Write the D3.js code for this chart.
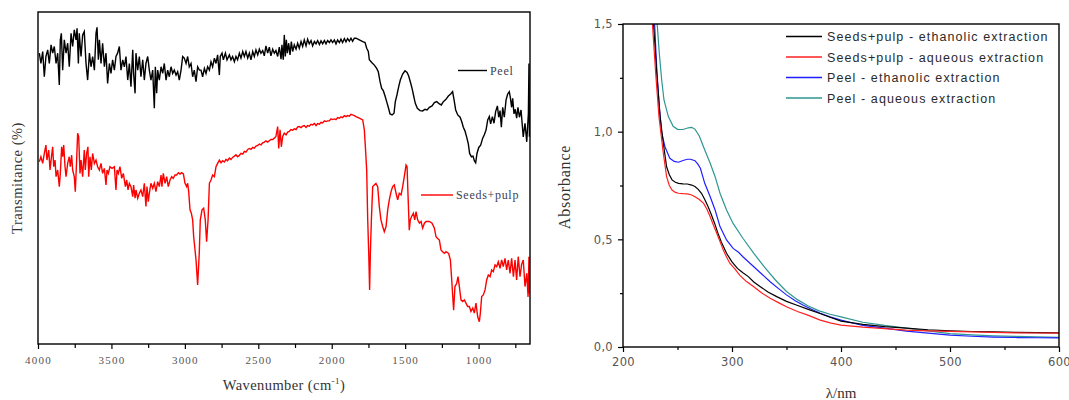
<!DOCTYPE html>
<html><head><meta charset="utf-8">
<script src="https://cdn.jsdelivr.net/npm/d3@7"></script>
<style>body{margin:0;background:#fff} svg{display:block}</style>
</head><body>
<svg id="c" width="1069" height="400"></svg>
<script>
// ---------- FTIR (left) ----------
const ftirSeries = ["Peel", "Seeds+pulp"];
const peel = [
[3991,87.6],[3980,84.5],[3968,88.1],[3957,80.5],[3946,86.6],[3934,88.6],[3923,84.5],[3911,90.1],[3900,87.6],[3889,89.6],[3877,84.5],[3866,87.6],[3855,78.0],[3848,91.6],[3841,93.6],[3832,82.5],[3821,91.6],[3809,87.6],[3798,90.6],[3787,83.5],[3775,93.6],[3764,89.6],[3753,94.6],[3741,91.6],[3734,95.1],[3725,84.5],[3719,93.6],[3707,86.6],[3696,93.1],[3685,94.1],[3673,84.5],[3662,79.5],[3650,87.6],[3639,83.5],[3628,86.6],[3616,82.5],[3605,93.6],[3598,95.4],[3589,85.6],[3582,91.6],[3571,84.5],[3560,90.6],[3548,83.5],[3537,87.6],[3526,78.5],[3514,84.5],[3503,81.5],[3492,85.6],[3480,82.5],[3469,86.6],[3458,87.6],[3446,89.6],[3435,82.5],[3423,85.6],[3412,83.5],[3401,86.6],[3389,79.5],[3378,84.5],[3367,77.5],[3355,88.6],[3349,81.5],[3339,75.5],[3333,87.6],[3321,82.5],[3310,86.6],[3299,80.5],[3287,85.6],[3276,79.5],[3265,84.5],[3253,86.6],[3242,82.5],[3231,79.5],[3219,82.5],[3208,71.0],[3201,83.5],[3192,75.5],[3185,82.5],[3174,79.5],[3162,83.5],[3151,81.5],[3140,84.5],[3128,79.5],[3117,82.5],[3106,80.5],[3094,83.5],[3083,81.5],[3072,82.5],[3060,81.0],[3049,82.0],[3038,79.5],[3026,82.5],[3015,86.6],[3004,86.1],[2992,84.5],[2981,86.6],[2970,83.5],[2958,84.5],[2947,80.5],[2936,82.5],[2924,79.0],[2913,83.5],[2901,82.5],
[2890,82.5],[2879,80.5],[2867,83.0],[2856,81.5],[2845,83.5],[2833,82.5],[2822,85.0],[2811,83.5],[2799,86.1],[2788,84.5],[2777,87.1],[2765,81.0],[2759,86.6],[2747,87.6],[2738,85.6],[2724,87.6],[2713,85.6],[2697,87.1],[2686,85.6],[2675,86.6],[2663,85.0],[2652,86.6],[2641,85.6],[2629,87.6],[2618,86.1],[2606,88.1],[2595,86.6],[2584,88.1],[2572,86.1],[2561,87.6],[2550,85.6],[2538,88.1],[2527,86.6],[2516,88.6],[2504,87.1],[2493,88.8],[2482,87.6],[2470,88.4],[2459,86.8],[2448,89.8],[2436,87.6],[2425,89.4],[2414,86.8],[2402,88.8],[2391,87.6],[2380,88.4],[2368,86.6],[2357,89.4],[2345,85.8],[2339,90.1],[2330,85.6],[2323,93.1],[2316,86.6],[2309,91.6],[2302,87.6],[2293,90.6],[2284,87.1],[2275,91.1],[2266,88.1],[2255,90.1],[2243,88.8],[2232,90.6],[2221,89.1],[2209,91.1],[2198,89.6],[2187,91.6],[2175,89.8],[2164,91.8],[2153,90.4],[2141,91.4],[2130,89.8],[2118,91.1],[2107,90.4],[2096,91.4],[2084,90.2],[2073,91.3],[2062,90.4],[2050,91.4],[2039,90.4],[2028,91.4],[2016,90.8],[2005,91.6],[1994,90.8],[1982,91.6],[1971,90.4],[1960,91.6],[1948,90.8],[1937,91.8],[1926,90.8],[1914,92.0],[1903,91.0],[1892,92.0],[1880,91.2],[1869,92.1],[1858,91.2],[1846,92.1],
[1835,92.1],[1812,91.6],[1789,91.1],[1773,90.8],[1762,89.1],[1751,88.1],[1744,85.6],[1726,84.7],[1710,84.0],[1694,83.0],[1683,82.0],[1671,79.0],[1660,77.0],[1649,76.3],[1637,74.7],[1626,73.0],[1615,71.3],[1603,69.3],[1589,69.0],[1576,69.5],[1567,73.0],[1556,75.0],[1544,77.5],[1533,79.5],[1517,81.3],[1501,82.3],[1487,81.8],[1476,80.7],[1465,79.0],[1453,77.0],[1442,74.7],[1431,72.5],[1417,71.0],[1399,70.3],[1381,70.2],[1365,70.7],[1351,70.5],[1335,71.3],[1317,71.7],[1301,72.7],[1285,73.0],[1267,72.3],[1254,72.0],[1240,73.0],[1222,73.7],[1206,74.7],[1190,75.3],[1177,76.0],[1167,73.5],[1156,70.5],[1142,69.0],[1126,68.3],[1115,67.0],[1104,65.3],[1093,64.2],[1081,62.3],[1070,60.3],[1061,57.4],[1049,56.4],[1038,56.6],[1029,55.2],[1020,54.6],[1011,57.4],[999,59.2],[986,59.9],[972,62.0],[961,63.0],[949,64.5],[938,67.5],[927,68.5],[918,66.3],[906,68.5],[895,66.5],[884,70.0],[872,71.7],[863,68.3],[854,70.3],[845,65.3],[836,71.3],[825,68.3],[813,73.5],[802,75.3],[791,76.0],[784,74.3],[775,71.3],[768,74.0],[759,69.3],[750,70.7],[741,68.0],[732,71.3],[722,68.3],[711,70.5],[696,62.4],[684,66.5],[672,60.9],[661,69.5],[657,84.5],[654,62.4]
];
const seedsPulp = [
[3991,54.9],[3980,56.4],[3968,54.4],[3957,57.4],[3946,59.9],[3939,55.4],[3927,58.4],[3918,52.4],[3911,55.4],[3900,59.4],[3893,53.4],[3884,55.4],[3877,50.4],[3866,52.4],[3855,47.4],[3848,51.4],[3839,59.4],[3832,56.4],[3825,59.9],[3816,53.4],[3809,50.4],[3798,54.4],[3787,56.4],[3780,53.4],[3771,56.9],[3764,52.4],[3753,50.4],[3746,45.9],[3737,55.4],[3730,63.5],[3723,62.5],[3714,51.4],[3707,55.4],[3696,50.4],[3685,58.4],[3678,52.4],[3669,57.4],[3660,59.4],[3655,50.4],[3646,56.4],[3637,52.4],[3628,57.4],[3616,54.4],[3605,55.4],[3594,53.4],[3582,52.4],[3571,54.4],[3560,51.4],[3548,52.9],[3537,47.9],[3530,52.4],[3521,51.4],[3510,53.4],[3496,52.9],[3480,53.4],[3469,46.4],[3462,52.4],[3453,51.4],[3442,53.4],[3430,49.9],[3419,51.4],[3405,47.4],[3396,49.4],[3387,46.4],[3378,48.4],[3367,47.4],[3355,44.4],[3349,47.9],[3339,43.9],[3333,46.4],[3321,43.9],[3310,45.4],[3299,46.4],[3287,44.4],[3276,48.4],[3265,41.4],[3258,47.4],[3249,42.9],[3242,45.4],[3231,48.4],[3219,46.9],[3208,48.4],[3197,45.9],[3185,48.9],[3174,47.4],[3162,50.9],[3156,47.4],[3147,51.4],[3135,48.4],[3124,50.4],[3113,47.4],[3101,49.4],[3090,50.4],[3079,49.9],[3067,50.9],[3056,50.9],[3044,51.6],[3033,51.2],[3022,51.6],[3010,51.2],[2999,48.4],[2988,47.4],[2981,48.4],[2974,45.9],[2965,40.4],[2956,39.4],[2947,37.4],[2940,32.3],[2933,29.3],[2924,25.3],
[2913,17.8],[2902,27.3],[2895,37.4],[2883,40.4],[2872,40.9],[2861,37.4],[2852,30.8],[2842,37.4],[2833,48.4],[2822,49.4],[2811,50.9],[2799,50.4],[2788,53.4],[2777,54.4],[2765,55.4],[2754,54.6],[2743,55.2],[2731,54.8],[2720,55.6],[2709,55.2],[2697,56.0],[2686,55.6],[2675,56.2],[2663,56.6],[2652,57.0],[2641,56.4],[2629,56.8],[2618,57.4],[2606,57.2],[2595,58.0],[2584,57.8],[2572,58.6],[2561,58.9],[2550,58.6],[2538,59.2],[2527,59.0],[2516,59.6],[2504,59.8],[2493,60.2],[2482,60.0],[2470,60.6],[2459,60.8],[2448,61.2],[2436,60.8],[2425,61.2],[2414,61.6],[2402,61.6],[2391,62.0],[2380,62.5],[2368,65.5],[2361,58.9],[2352,64.5],[2343,59.4],[2334,62.5],[2323,63.5],[2311,63.0],[2300,63.8],[2289,64.0],[2278,64.6],[2266,64.4],[2255,64.8],[2243,64.6],[2232,65.4],[2221,65.5],[2209,65.2],[2198,65.6],[2187,65.8],[2175,65.2],[2164,65.8],[2153,65.6],[2141,66.2],[2130,66.0],[2118,66.4],[2107,65.8],[2096,66.4],[2084,66.2],[2073,66.8],[2062,66.6],[2050,67.2],[2039,67.0],[2028,67.2],[2016,67.2],[2005,67.8],[1994,67.6],[1982,67.8],[1971,67.6],[1960,68.2],[1948,68.0],[1937,68.4],[1926,68.2],[1914,68.8],[1903,68.5],[1892,68.8],[1880,68.6],[1869,69.2],[1858,69.0],[1846,68.8],
[1835,68.5],[1812,68.0],[1789,67.5],[1778,64.5],[1771,59.4],[1762,52.4],[1755,37.4],[1748,27.3],[1742,16.3],[1737,27.3],[1730,37.4],[1721,47.4],[1710,47.9],[1699,48.4],[1687,47.4],[1676,41.4],[1665,37.4],[1653,35.4],[1642,33.8],[1630,35.4],[1619,40.4],[1608,43.4],[1596,45.9],[1585,47.4],[1574,47.9],[1562,45.4],[1551,43.4],[1540,45.4],[1528,44.9],[1517,47.4],[1506,50.4],[1494,53.9],[1487,53.4],[1481,45.4],[1472,34.3],[1465,37.4],[1456,38.4],[1444,39.4],[1435,37.4],[1426,39.9],[1415,37.4],[1403,36.4],[1392,36.9],[1381,34.9],[1369,36.4],[1358,36.9],[1335,36.9],[1317,36.4],[1301,34.9],[1290,32.3],[1279,31.8],[1267,31.3],[1256,28.3],[1245,27.8],[1233,27.3],[1222,27.8],[1204,27.3],[1192,25.3],[1183,19.3],[1176,14.3],[1170,10.2],[1161,17.3],[1149,18.3],[1140,20.3],[1131,17.3],[1120,13.3],[1108,12.8],[1097,13.3],[1086,12.3],[1074,11.3],[1063,11.3],[1052,9.8],[1040,10.8],[1029,9.3],[1018,12.3],[1006,8.2],[995,6.7],[988,9.3],[979,14.3],[968,14.8],[956,16.3],[945,19.3],[934,20.8],[922,20.3],[911,22.3],[900,21.8],[888,23.8],[877,23.3],[866,24.8],[854,22.8],[843,25.3],[832,23.3],[820,25.8],[809,22.3],[798,25.3],[786,21.3],[775,25.8],[763,20.3],[752,25.3],[741,19.3],[730,26.3],[718,20.3],[707,24.0],[696,25.3],[684,17.3],[672,21.3],[663,14.2],[657,26.3],[654,15.3]
];
const ftirTicks = [4000, 3500, 3000, 2500, 2000, 1500, 1000];
const ftirMinorTicks = [3750, 3250, 2750, 2250, 1750, 1250, 750];

// ---------- UV-Vis (right) ----------
const uvSeries = ["Seeds+pulp - ethanolic extraction", "Seeds+pulp - aqueous extraction", "Peel - ethanolic extraction", "Peel - aqueous extraction"];
const uvSeedsEthanolic = [[226,1.6],[228,1.5],[231,1.27],[234,1.07],[237,0.946],[240,0.837],[242.5,0.80],[245,0.776],[248,0.765],[251,0.76],[255,0.758],[259,0.757],[263,0.752],[266,0.745],[269,0.732],[272,0.714],[275,0.685],[278,0.652],[281,0.615],[284,0.575],[287,0.53],[290,0.49],[295,0.435],[300,0.395],[305,0.365],[310,0.345],[315,0.327],[320,0.302],[326,0.28],[333,0.255],[341,0.234],[350,0.212],[359,0.195],[370,0.175],[380,0.157],[390,0.138],[400,0.12],[420,0.105],[440,0.095],[460,0.088],[480,0.08],[500,0.075],[520,0.072],[540,0.07],[560,0.068],[580,0.067],[600,0.066]];
const uvSeedsAqueous = [[225,1.6],[227,1.5],[230,1.27],[233,1.07],[237,0.90],[240,0.791],[242.5,0.75],[245,0.729],[248,0.718],[251,0.714],[255,0.712],[259,0.711],[263,0.706],[266,0.698],[270,0.685],[274,0.667],[277,0.64],[280,0.605],[283,0.565],[286,0.528],[289,0.49],[292,0.45],[295,0.418],[298,0.389],[303,0.36],[307,0.334],[313,0.305],[320,0.28],[327,0.252],[335,0.226],[343,0.205],[350,0.187],[360,0.165],[369,0.149],[381,0.125],[390,0.112],[400,0.102],[420,0.092],[440,0.085],[460,0.078],[480,0.075],[500,0.073],[520,0.07],[540,0.068],[560,0.066],[580,0.065],[600,0.064]];
const uvPeelEthanolic = [[227,1.6],[229,1.5],[231,1.287],[233.3,1.116],[235.5,0.993],[238.5,0.93],[243,0.876],[247,0.862],[251,0.858],[255,0.866],[259,0.872],[262,0.872],[266,0.865],[268.5,0.85],[271,0.83],[275,0.76],[280,0.698],[284.5,0.636],[289,0.559],[295,0.497],[301,0.458],[306,0.44],[310,0.419],[320,0.373],[327,0.34],[335,0.303],[343,0.27],[350,0.242],[358,0.215],[365,0.195],[373,0.175],[381,0.157],[390,0.14],[400,0.125],[420,0.1],[440,0.088],[460,0.074],[480,0.064],[500,0.055],[520,0.05],[540,0.046],[560,0.044],[580,0.043],[600,0.042]];
const uvPeelAqueous = [[229,1.6],[231.5,1.49],[233.3,1.364],[235.5,1.24],[237.6,1.147],[241.6,1.07],[246,1.025],[250,1.011],[255,1.01],[260,1.018],[263,1.02],[266,1.012],[270,0.98],[275,0.915],[280,0.853],[284.5,0.791],[289,0.714],[295,0.636],[301,0.574],[310,0.505],[320,0.435],[330,0.37],[340,0.31],[350,0.258],[360,0.22],[370,0.19],[380,0.168],[390,0.152],[400,0.14],[420,0.115],[440,0.1],[460,0.088],[480,0.075],[500,0.062],[520,0.056],[540,0.052],[560,0.049],[580,0.047],[600,0.045]];
const uvXTicks = [200, 300, 400, 500, 600];
const uvXMinorTicks = [250, 350, 450, 550];
const uvYTicks = [0, 0.5, 1.0, 1.5];
const uvYMinorTicks = [0.25, 0.75, 1.25];

const svg = d3.select("#c");
const serif = "'Liberation Serif', 'Times New Roman', serif";
const sans = "'Liberation Sans', Arial, sans-serif";

// ===== Left panel =====
const xL = d3.scaleLinear().domain([4000, 650]).range([38, 530]);
const yL = d3.scaleLinear().domain([0, 100]).range([344, 12]);
const defs = svg.append("defs");
defs.append("clipPath").attr("id", "clipL").append("rect")
  .attr("x", 38).attr("y", 12).attr("width", 492).attr("height", 332);
defs.append("clipPath").attr("id", "clipR").append("rect")
  .attr("x", 623).attr("y", 24).attr("width", 436).attr("height", 323);

const lineL = d3.line().x(d => xL(d[0])).y(d => yL(d[1]));
const gL = svg.append("g").attr("clip-path", "url(#clipL)");
gL.append("path").datum(peel).attr("d", lineL).attr("fill", "none").attr("stroke", "#000").attr("stroke-width", 1.4);
gL.append("path").datum(seedsPulp).attr("d", lineL).attr("fill", "none").attr("stroke", "#ff0000").attr("stroke-width", 1.4);

const axL = svg.append("g").attr("transform", "translate(0,344)")
  .call(d3.axisBottom(xL).tickValues(ftirTicks).tickSize(5).tickSizeOuter(0).tickPadding(7).tickFormat(d3.format("d")));
const axLm = svg.append("g").attr("transform", "translate(0,344)")
  .call(d3.axisBottom(xL).tickValues(ftirMinorTicks).tickSize(4).tickSizeOuter(0).tickFormat(""));
[axL, axLm].forEach(a => { a.select(".domain").remove(); a.selectAll("line").attr("stroke", "#000").attr("stroke-width", 1.2); });
axL.selectAll("text").attr("font-family", serif).attr("font-size", 11).attr("fill", "#555").attr("letter-spacing", 1.2);

svg.append("rect").attr("x", xL.range()[0]).attr("y", yL.range()[1])
  .attr("width", xL.range()[1] - xL.range()[0]).attr("height", yL.range()[0] - yL.range()[1])
  .attr("fill", "none").attr("stroke", "#000").attr("stroke-width", 1.4);

const wt = svg.append("text").attr("x", 284).attr("y", 390).attr("text-anchor", "middle")
  .attr("font-family", serif).attr("font-size", 14.5).attr("letter-spacing", 0.4).attr("fill", "#333");
wt.append("tspan").text("Wavenumber (cm");
wt.append("tspan").attr("font-size", 9).attr("dy", -6).text("-1");
wt.append("tspan").attr("dy", 6).text(")");

svg.append("text").attr("transform", "translate(22,178) rotate(-90)").attr("text-anchor", "middle")
  .attr("font-family", serif).attr("font-size", 14.5).attr("letter-spacing", 0.5).attr("fill", "#333").text("Transmitance (%)");

// left legends
const legL = [
  {name: ftirSeries[0], color: "#000", y: 70.5, x1: 458, x2: 487},
  {name: ftirSeries[1], color: "#ff0000", y: 195, x1: 421, x2: 453}
];
legL.forEach(l => {
  svg.append("line").attr("x1", l.x1).attr("x2", l.x2).attr("y1", l.y).attr("y2", l.y)
    .attr("stroke", l.color).attr("stroke-width", 1.4);
  svg.append("text").attr("x", l.x2 + 3).attr("y", l.y + 4).attr("font-family", serif)
    .attr("font-size", 12).attr("letter-spacing", 0.7).attr("fill", "#3a4258").text(l.name);
});

// ===== Right panel =====
const xR = d3.scaleLinear().domain([200, 600]).range([623, 1059]);
const yR = d3.scaleLinear().domain([0, 1.5]).range([347, 24]);
const lineR = d3.line().x(d => xR(d[0])).y(d => yR(d[1]));
const uvData = [uvSeedsEthanolic, uvSeedsAqueous, uvPeelEthanolic, uvPeelAqueous];
const uvColors = ["#000000", "#ff2020", "#1f1fff", "#2e9692"];
const gR = svg.append("g").attr("clip-path", "url(#clipR)");
[3, 2, 0, 1].forEach(i => {
  gR.append("path").datum(uvData[i]).attr("d", lineR).attr("fill", "none")
    .attr("stroke", uvColors[i]).attr("stroke-width", 1.2);
});

const fmtComma = d => d3.format(".1f")(d).replace(".", ",");
const axRy = svg.append("g").attr("transform", "translate(623,0)")
  .call(d3.axisLeft(yR).tickValues(uvYTicks).tickSize(5).tickSizeOuter(0).tickPadding(5).tickFormat(fmtComma));
const axRym = svg.append("g").attr("transform", "translate(623,0)")
  .call(d3.axisLeft(yR).tickValues(uvYMinorTicks).tickSize(3).tickSizeOuter(0).tickFormat(""));
const axRx = svg.append("g").attr("transform", "translate(0,347)")
  .call(d3.axisBottom(xR).tickValues(uvXTicks).tickSize(5).tickSizeOuter(0).tickPadding(6).tickFormat(d3.format("d")));
const axRxm = svg.append("g").attr("transform", "translate(0,347)")
  .call(d3.axisBottom(xR).tickValues(uvXMinorTicks).tickSize(3).tickSizeOuter(0).tickFormat(""));
[axRy, axRym, axRx, axRxm].forEach(a => { a.select(".domain").remove(); a.selectAll("line").attr("stroke", "#000").attr("stroke-width", 1.2); });
[axRy, axRx].forEach(a => a.selectAll("text").attr("font-family", "'DejaVu Sans', Verdana, sans-serif")
  .attr("font-size", 11.5).attr("fill", "#555").attr("letter-spacing", 0.3));

svg.append("rect").attr("x", 623).attr("y", 24).attr("width", 436).attr("height", 323)
  .attr("fill", "none").attr("stroke", "#000").attr("stroke-width", 1.4);

svg.append("text").attr("transform", "translate(570,187) rotate(-90)").attr("text-anchor", "middle")
  .attr("font-family", serif).attr("font-size", 16).attr("letter-spacing", 0.8).attr("fill", "#333").text("Absorbance");
svg.append("text").attr("x", 841).attr("y", 398).attr("text-anchor", "middle")
  .attr("font-family", serif).attr("font-size", 15).attr("fill", "#333").text("λ/nm");

// right legend
const legRy = [36.5, 57, 77.5, 98];
uvSeries.forEach((name, i) => {
  svg.append("line").attr("x1", 786).attr("x2", 822).attr("y1", legRy[i]).attr("y2", legRy[i])
    .attr("stroke", uvColors[i]).attr("stroke-width", 1.3);
  svg.append("text").attr("x", 827).attr("y", legRy[i] + 4.5).attr("font-family", sans)
    .attr("font-size", 12.5).attr("letter-spacing", 1.1).attr("fill", "#2a2a2a").text(name);
});
</script>
</body></html>
